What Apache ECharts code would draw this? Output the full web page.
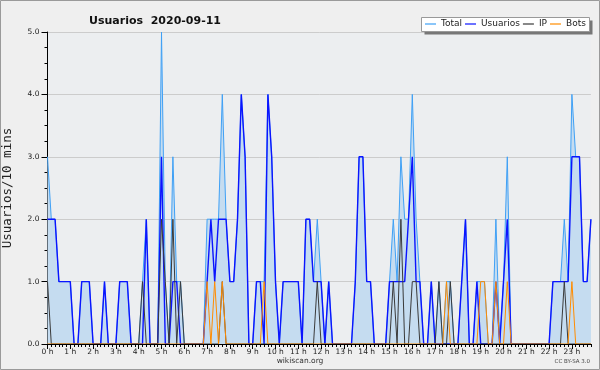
<!DOCTYPE html>
<html><head><meta charset="utf-8">
<script src="https://cdn.jsdelivr.net/npm/echarts@6/dist/echarts.min.js"></script>
<style>html,body{margin:0;padding:0;background:#efefef}#c{width:600px;height:370px}</style>
</head><body><div id="c"></div>
<script>
var hourLabels = ['0 h','1 h','2 h','3 h','4 h','5 h','6 h','7 h','8 h','9 h','10 h','11 h','12 h','13 h','14 h','15 h','16 h','17 h','18 h','19 h','20 h','21 h','22 h','23 h'];
var minuteSlots = ['00','10','20','30','40','50'];
var yTicks = [0, 1, 2, 3, 4, 5];

var total = [3,2,2,1,1,1,1,0,0,1,1,1,0,0,0,1,0,0,0,1,1,1,0,0,
  0,1,2,0,0,0,5,1,0,3,1,1,0,0,0,0,0,0,2,2,2,2,4,2,
  1,1,2,4,3,0,0,1,1,1,4,3,1,0,1,1,1,1,1,0,2,2,1,2,
  1,0,1,0,0,0,0,0,0,1,3,3,1,1,0,0,0,0,1,2,1,3,2,2,
  4,2,1,0,0,1,0,1,0,1,1,0,0,1,2,0,0,1,1,1,0,0,2,0,
  1,3,0,0,0,0,0,0,0,0,0,0,0,1,1,1,2,1,4,3,3,1,1,2];
var usuarios = [2,2,2,1,1,1,1,0,0,1,1,1,0,0,0,1,0,0,0,1,1,1,0,0,
  0,0,2,0,0,0,3,0,0,1,1,0,0,0,0,0,0,0,1,2,1,2,2,2,
  1,1,2,4,3,0,0,1,1,0,4,3,1,0,1,1,1,1,1,0,2,2,1,1,
  1,0,1,0,0,0,0,0,0,1,3,3,1,1,0,0,0,0,1,1,1,1,1,2,
  3,1,1,0,0,1,0,0,0,0,0,0,0,1,2,0,0,1,0,0,0,0,1,0,
  1,2,0,0,0,0,0,0,0,0,0,0,0,1,1,1,1,1,3,3,3,1,1,2];
var ip = [1,0,0,0,0,0,0,0,0,0,0,0,0,0,0,0,0,0,0,0,0,0,0,0,
  0,1,0,0,0,0,2,1,0,2,0,1,0,0,0,0,0,0,0,0,0,0,1,0,
  0,0,0,0,0,0,0,0,0,0,0,0,0,0,0,0,0,0,0,0,0,0,0,1,
  0,0,0,0,0,0,0,0,0,0,0,0,0,0,0,0,0,0,0,1,0,2,0,0,
  1,1,0,0,0,0,0,1,0,0,1,0,0,0,0,0,0,0,0,0,0,0,0,0,
  0,0,0,0,0,0,0,0,0,0,0,0,0,0,0,0,1,0,0,0,0,0,0,0];
var bots = [0,0,0,0,0,0,0,0,0,0,0,0,0,0,0,0,0,0,0,0,0,0,0,0,
  0,0,0,0,0,0,0,0,0,0,0,0,0,0,0,0,0,0,1,0,1,0,1,0,
  0,0,0,0,0,0,0,0,0,1,0,0,0,0,0,0,0,0,0,0,0,0,0,0,
  0,0,0,0,0,0,0,0,0,0,0,0,0,0,0,0,0,0,0,0,0,0,0,0,
  0,0,0,0,0,0,0,0,0,1,0,0,0,0,0,0,0,0,1,1,0,0,1,0,
  0,1,0,0,0,0,0,0,0,0,0,0,0,0,0,0,0,0,1,0,0,0,0,0];

var categories = [];
hourLabels.forEach(function (h, hi) { minuteSlots.forEach(function (m) { categories.push(hi + ':' + m); }); });

var chart = echarts.init(document.getElementById('c'), null, {renderer: 'canvas'});
var F = 'DejaVu Sans';
chart.setOption({
  animation: false,
  backgroundColor: '#efefef',
  title: {
    text: 'Usuarios  2020-09-11', left: 150, top: 10.5, textAlign: 'center',
    textStyle: {fontFamily: F, fontSize: 11, fontWeight: 'bold', color: '#111'}
  },
  graphic: [
    {type: 'rect', silent: true, z: -10, shape: {x: 0.5, y: 0.5, width: 599, height: 369}, style: {fill: 'none', stroke: '#9a9a9a', lineWidth: 1}},
    {type: 'rect', silent: true, z: 20, shape: {x: 424.5, y: 20.5, width: 168, height: 14}, style: {fill: '#777777'}},
    {type: 'rect', silent: true, z: 21, shape: {x: 421.5, y: 17.5, width: 168, height: 14}, style: {fill: '#ffffff', stroke: '#999999', lineWidth: 1}},
    {type: 'text', silent: true, style: {text: 'wikiscan.org', x: 300, y: 361, textAlign: 'center', textVerticalAlign: 'middle', font: '7.5px "DejaVu Sans"', fill: '#333'}},
    {type: 'text', silent: true, style: {text: 'CC BY-SA 3.0', x: 590, y: 362, textAlign: 'right', textVerticalAlign: 'middle', font: '5.5px "DejaVu Sans"', fill: '#444'}}
  ],
  legend: {
    left: 425, top: 19.5, z: 30, itemWidth: 11, itemHeight: 1.2, itemGap: 3, padding: 0,
    icon: 'rect',
    textStyle: {fontFamily: F, fontSize: 9, color: '#222', padding: [0, 0, 0, 0]},
    data: ['Total', 'Usuarios', 'IP', 'Bots']
  },
  grid: {left: 47.5, right: 9.1, top: 32, bottom: 26, show: true, backgroundColor: '#eceef0', borderWidth: 0, outerBoundsMode: 'none', containLabel: false},
  xAxis: [{
    type: 'category', data: categories, boundaryGap: false, z: 5,
    axisLine: {lineStyle: {color: '#000', width: 1}},
    axisTick: {interval: 0, length: 3, lineStyle: {color: '#000'}},
    axisLabel: {interval: 5, margin: 4, fontFamily: F, fontSize: 7.5, color: '#222',
      formatter: function (v, idx) { return hourLabels[Math.floor(idx / 6)]; }},
    splitLine: {show: false}
  }, {
    type: 'category', data: categories, boundaryGap: false, position: 'bottom', z: 5,
    axisLine: {show: false},
    axisTick: {interval: 5, length: 5, lineStyle: {color: '#000'}},
    axisLabel: {show: false}, splitLine: {show: false}
  }],
  yAxis: {
    type: 'value', min: yTicks[0], max: yTicks[yTicks.length - 1], interval: 1,
    name: 'Usuarios/10 mins', nameLocation: 'middle', nameGap: 33, nameRotate: 90,
    nameTextStyle: {fontFamily: 'DejaVu Sans Mono', fontSize: 12.5, color: '#222'},
    axisLine: {show: true, lineStyle: {color: '#000', width: 1}},
    axisTick: {show: true, length: 6, lineStyle: {color: '#000'}},
    minorTick: {show: true, splitNumber: 4, length: 3, lineStyle: {color: '#000'}},
    axisLabel: {margin: 8, fontFamily: F, fontSize: 7.5, color: '#222', formatter: function (v) { return v.toFixed(1); }},
    splitLine: {lineStyle: {color: '#cccccc', width: 1}}
  },
  series: [
    {name: 'Total', type: 'line', data: total, showSymbol: false, symbol: 'none',
      lineStyle: {color: '#3fa0f5', width: 1}, itemStyle: {color: '#3fa0f5'},
      areaStyle: {color: '#c5dcf0', opacity: 1}},
    {name: 'Usuarios', type: 'line', data: usuarios, showSymbol: false, symbol: 'none',
      lineStyle: {color: '#0a14ff', width: 1.4}, itemStyle: {color: '#0a14ff'}},
    {name: 'IP', type: 'line', data: ip, showSymbol: false, symbol: 'none',
      lineStyle: {color: '#3a3a3a', width: 1}, itemStyle: {color: '#3a3a3a'}},
    {name: 'Bots', type: 'line', data: bots, showSymbol: false, symbol: 'none',
      lineStyle: {color: '#ff8c00', width: 1}, itemStyle: {color: '#ff8c00'}}
  ]
});
</script></body></html>
